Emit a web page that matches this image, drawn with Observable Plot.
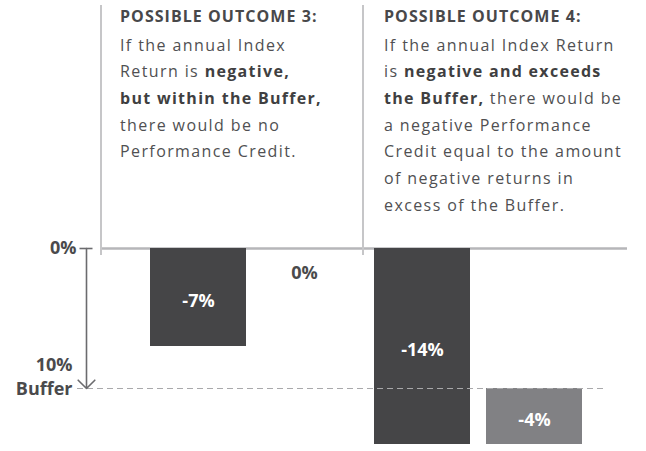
<!DOCTYPE html>
<html>
<head>
<meta charset="utf-8">
<script src="https://cdn.jsdelivr.net/npm/d3@7"></script>
<script src="https://cdn.jsdelivr.net/npm/@observablehq/plot@0.6"></script>
<style>
  html, body { margin: 0; padding: 0; background: #fff; }
  #wrap { position: relative; width: 646px; height: 451px; overflow: hidden; font-family: "Open Sans", sans-serif; }
  #chart { position: absolute; left: 0; top: 0; }
  .note { position: absolute; top: 5px; height: 250px; border-left: 2px solid #c6c6c8; box-sizing: border-box; white-space: nowrap; }
  .note .head { font-size: 16px; font-weight: 700; letter-spacing: 1.05px; line-height: 22px; color: #48484a; margin-top: 0px; }
  .note .body { font-size: 16px; letter-spacing: 1.4px; line-height: 26.7px; color: #505052; margin-top: 4.6px; }
  .note .body b { font-weight: 700; color: #3f3f41; letter-spacing: 1.3px; }
  #n3 { left: 100px; padding-left: 18px; width: 263px; }
  #n4 { left: 362px; padding-left: 20px; width: 270px; }
</style>
</head>
<body>
<div id="wrap">
  <div id="chart"></div>
  <div class="note" id="n3">
    <div class="head">POSSIBLE OUTCOME 3:</div>
    <div class="body">If the annual Index<br>Return is <b>negative,</b><br><b>but within the Buffer,</b><br>there would be no<br>Performance Credit.</div>
  </div>
  <div class="note" id="n4">
    <div class="head">POSSIBLE OUTCOME 4:</div>
    <div class="body">If the annual Index Return<br>is <b>negative and exceeds</b><br><b>the Buffer,</b> there would be<br>a negative Performance<br>Credit equal to the amount<br>of negative returns in<br>excess of the Buffer.</div>
  </div>
</div>
<script>
// ---- data ----
const categories = ["Outcome 3 Index Return", "Outcome 3 Performance Credit", "Outcome 4 Index Return", "Outcome 4 Performance Credit"];
const kinds = ["index", "credit", "index", "credit"];
const values = [-7, 0, -14, -4];           // percent
const bufferPct = 10;                      // 10% Buffer
const bufferCategory = "Buffer";
const axisLabels = ["0%", "10%\nBuffer"];

// ---- derived tables ----
const rows = categories.map((c, i) => ({
  category: c,
  kind: kinds[i],
  value: values[i],
  base: (kinds[i] === "credit" && values[i] < 0) ? -bufferPct : 0
}));
const bars = rows.filter(d => d.value !== 0);
const zeros = rows.filter(d => d.value === 0);
const bufferRows = [{category: bufferCategory, value: bufferPct}];

const dark = "#4a4a4c";

const chart = Plot.plot({
  width: 646,
  height: 451,
  marginLeft: 100,
  marginRight: 19,
  marginTop: 0,
  marginBottom: 0,
  style: {fontFamily: "'Open Sans', sans-serif", background: "transparent", overflow: "visible"},
  x: {type: "band", domain: [bufferCategory, ...categories], range: [37.4, 581.8], paddingInner: 0.1436, paddingOuter: 0, axis: null},
  y: {domain: [-14.5, 17.714], axis: null},
  color: {domain: ["index", "credit"], range: ["#454547", "#818184"]},
  marks: [
    Plot.ruleY([0], {stroke: "#b6b6b9", strokeWidth: 2.5}),
    Plot.barY(bars, {x: "category", y1: "base", y2: d => d.base + d.value, fill: "kind"}),
    Plot.ruleY([-bufferPct], {stroke: "#a9a9ab", strokeWidth: 1.2, strokeDasharray: "6,4", insetLeft: -23, insetRight: 24}),
    Plot.arrow(bufferRows, {x1: "category", x2: "category", y1: 0, y2: d => -d.value, stroke: "#6b6b6e", strokeWidth: 1.6, headLength: 11, headAngle: 90}),
    Plot.tickY(bufferRows, {x: "category", y: 0, stroke: "#6b6b6e", strokeWidth: 1.6, insetLeft: 41.5, insetRight: 41.5}),
    Plot.text(bufferRows, {x: "category", y: 0, text: () => axisLabels[0], textAnchor: "end", dx: -10, fontWeight: 700, fontSize: 18, fill: dark}),
    Plot.text(bufferRows, {x: "category", y: d => -d.value, text: () => axisLabels[1], textAnchor: "end", dx: -14, dy: -13.5, lineHeight: 1.37, fontWeight: 700, fontSize: 18, fill: dark}),
    Plot.text(bars, {x: "category", y: d => d.base + d.value / 2, text: d => `${d.value}%`, fill: "white", fontWeight: 700, fontSize: 18, dy: 4}),
    Plot.text(zeros, {x: "category", y: "base", text: d => `${d.value}%`, fill: dark, fontWeight: 700, fontSize: 18, dy: 25, dx: -6})
  ]
});
document.getElementById("chart").appendChild(chart);
</script>
</body>
</html>
